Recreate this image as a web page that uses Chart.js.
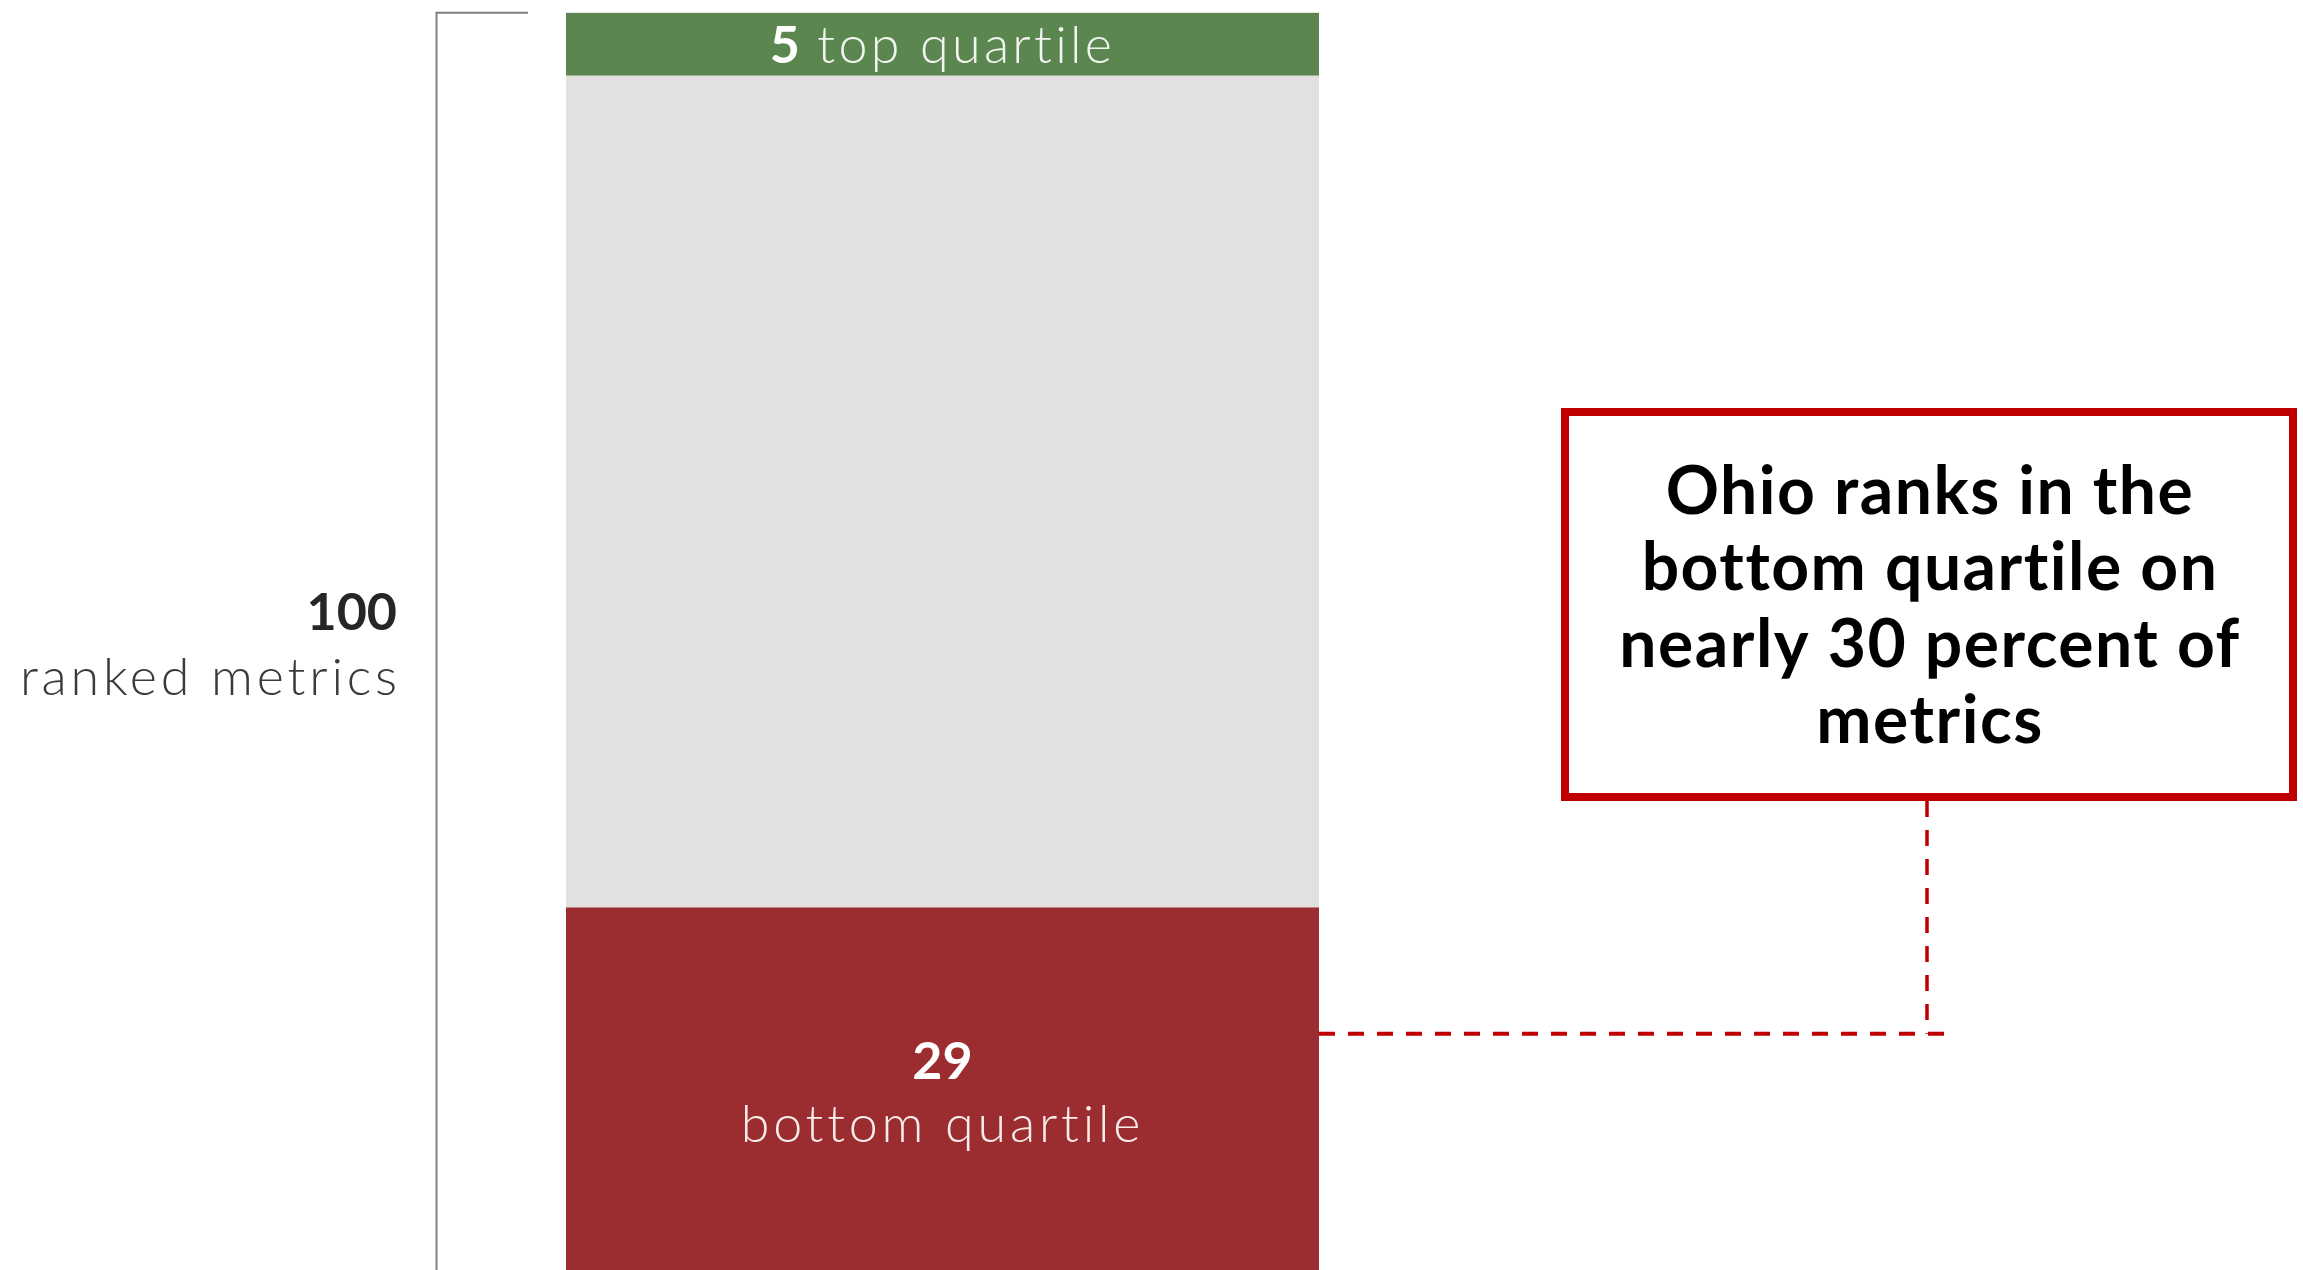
<!DOCTYPE html>
<html lang="en">
<head>
  <meta charset="UTF-8" />
  <title>Ohio ranked metrics by quartile</title>
  <script src="https://cdn.jsdelivr.net/npm/chart.js"></script>
  <style>
    html, body { margin: 0; padding: 0; background: #fff; overflow: hidden; }
    #quartileChart { display: block; }
  </style>
</head>
<body>
  <canvas id="quartileChart" width="2303" height="1290"></canvas>
  <script>
    // one stacked column, bottom segment first
    const categories = ['Ohio'];
    const segmentNames = ['bottom quartile', 'middle quartiles', 'top quartile'];
    const segmentValues = [29, 66, 5];
    const segmentColors = ['#9B2D30', '#E2E1E0', '#5B864F'];
    const totalLabel = 'ranked metrics';
    const calloutLines = ['Ohio ranks in the', 'bottom quartile on', 'nearly 30 percent of', 'metrics'];
    const leaderValue = 19;

    const total = segmentValues.reduce((a, b) => a + b, 0);
    const FONT = 'Lato, "Open Sans", sans-serif';
    const RED = '#C00000';
    const WIDE = '3.8px';

    // draws mixed bold/light runs centred on cx
    function drawRuns(ctx, runs, cx, baseline) {
      let width = 0;
      runs.forEach(r => {
        ctx.font = r.font;
        ctx.letterSpacing = r.spacing || '0px';
        width += ctx.measureText(r.text).width;
      });
      let x = cx - width / 2;
      ctx.textAlign = 'left';
      ctx.textBaseline = 'alphabetic';
      runs.forEach(r => {
        ctx.font = r.font;
        ctx.letterSpacing = r.spacing || '0px';
        ctx.fillStyle = r.color;
        ctx.fillText(r.text, x, baseline);
        x += ctx.measureText(r.text).width;
      });
      ctx.letterSpacing = '0px';
    }

    const annotations = {
      id: 'annotations',
      afterDraw(chart) {
        const ctx = chart.ctx;
        const y = chart.scales.y;
        const bar = chart.getDatasetMeta(0).data[0];
        const left = bar.x - bar.width / 2;
        const right = bar.x + bar.width / 2;
        const cx = bar.x;
        const yTop = y.getPixelForValue(total);
        const yZero = y.getPixelForValue(0);
        const bold = '700 52px ' + FONT;
        const light = '300 52px ' + FONT;
        ctx.save();

        // bracket spanning the whole column
        ctx.strokeStyle = '#808080';
        ctx.lineWidth = 2;
        ctx.beginPath();
        ctx.moveTo(left - 38, yTop);
        ctx.lineTo(left - 129.5, yTop);
        ctx.lineTo(left - 129.5, chart.height);
        ctx.stroke();

        // total label to the left of the bracket
        const midAll = (yTop + yZero) / 2;
        ctx.textAlign = 'right';
        ctx.textBaseline = 'alphabetic';
        ctx.font = bold;
        ctx.fillStyle = '#262626';
        ctx.fillText(String(total), left - 169, midAll - 13);
        ctx.font = light;
        ctx.letterSpacing = WIDE;
        ctx.fillStyle = '#3a3a3a';
        ctx.fillText(totalLabel, left - 165, midAll + 52);
        ctx.letterSpacing = '0px';

        // top segment label, one line
        const topIdx = segmentValues.length - 1;
        const topMid = (y.getPixelForValue(total) + y.getPixelForValue(total - segmentValues[topIdx])) / 2;
        drawRuns(ctx, [
          { text: String(segmentValues[topIdx]), font: bold, color: '#ffffff' },
          { text: ' ' + segmentNames[topIdx], font: light, color: '#f3f5f0', spacing: '3.3px' }
        ], cx, topMid + 18.5);

        // bottom segment label, two lines
        const botMid = (y.getPixelForValue(0) + y.getPixelForValue(segmentValues[0])) / 2;
        drawRuns(ctx, [{ text: String(segmentValues[0]), font: bold, color: '#ffffff' }], cx, botMid - 11.5);
        drawRuns(ctx, [{ text: segmentNames[0], font: light, color: '#f6ecea', spacing: WIDE }], cx, botMid + 51.5);

        // callout box
        const box = { x: 1565, y: 412, w: 728, h: 385 };
        const boxCx = box.x + box.w / 2;
        const leadY = y.getPixelForValue(leaderValue);

        // dashed leader from the bar to the box
        ctx.strokeStyle = RED;
        ctx.setLineDash([16, 13]);
        ctx.lineWidth = 4;
        ctx.beginPath();
        ctx.moveTo(right, leadY);
        ctx.lineTo(boxCx + 15, leadY);
        ctx.stroke();
        ctx.lineWidth = 3.5;
        ctx.beginPath();
        ctx.moveTo(boxCx - 2, box.y + box.h + 4);
        ctx.lineTo(boxCx - 2, leadY);
        ctx.stroke();
        ctx.setLineDash([]);

        ctx.fillStyle = '#ffffff';
        ctx.fillRect(box.x, box.y, box.w, box.h);
        ctx.lineWidth = 8;
        ctx.strokeStyle = RED;
        ctx.strokeRect(box.x, box.y, box.w, box.h);

        const lineGap = 76.5;
        const boxMid = box.y + box.h / 2;
        ctx.font = '700 66px ' + FONT;
        ctx.letterSpacing = '1.5px';
        ctx.fillStyle = '#000000';
        ctx.textAlign = 'center';
        calloutLines.forEach((line, i) => {
          const base = boxMid + (i - (calloutLines.length - 1) / 2) * lineGap + 24;
          ctx.fillText(line, boxCx + 1, base);
        });
        ctx.letterSpacing = '0px';

        ctx.restore();
      }
    };

    new Chart(document.getElementById('quartileChart'), {
      type: 'bar',
      data: {
        labels: categories,
        datasets: segmentNames.map((name, i) => ({
          label: name,
          data: [segmentValues[i]],
          backgroundColor: segmentColors[i],
          borderWidth: 0,
          barPercentage: 1,
          categoryPercentage: 1
        }))
      },
      options: {
        responsive: false,
        animation: false,
        devicePixelRatio: 1,
        layout: { padding: { left: 566, right: 984, top: 12.7, bottom: 16.7 } },
        scales: {
          x: { stacked: true, display: false },
          y: { stacked: true, display: false, min: 0, max: total }
        },
        plugins: { legend: { display: false }, tooltip: { enabled: false } }
      },
      plugins: [annotations]
    });
  </script>
</body>
</html>
